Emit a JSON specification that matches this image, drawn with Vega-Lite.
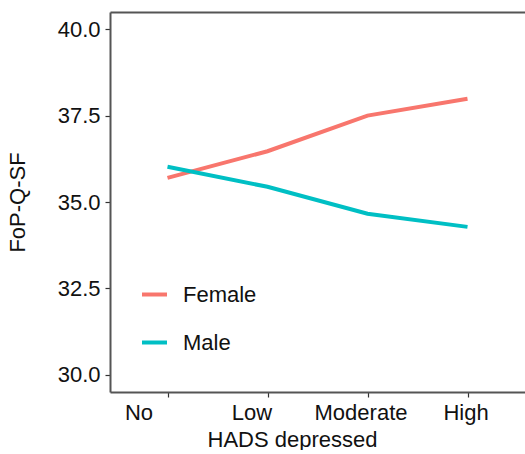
{
  "$schema": "https://vega.github.io/schema/vega-lite/v6.json",
  "width": 415,
  "height": 380,
  "padding": {"left": 6, "top": 12, "right": 0, "bottom": 0},
  "background": "white",
  "config": {
    "view": {"stroke": null},
    "font": "Liberation Sans",
    "axis": {
      "labelFont": "Liberation Sans",
      "titleFont": "Liberation Sans",
      "labelFontSize": 22,
      "titleFontSize": 22,
      "titleFontWeight": "normal",
      "labelColor": "#111",
      "titleColor": "#111",
      "domainColor": "#555",
      "domainWidth": 2,
      "tickColor": "#333",
      "tickWidth": 1.2,
      "tickSize": 5,
      "grid": false
    },
    "legend": {
      "labelFont": "Liberation Sans",
      "labelFontSize": 22,
      "labelColor": "#111"
    }
  },
  "data": {
    "values": [
      {"dep": "No", "sex": "Female", "fop": 35.70},
      {"dep": "Low", "sex": "Female", "fop": 36.47},
      {"dep": "Moderate", "sex": "Female", "fop": 37.50},
      {"dep": "High", "sex": "Female", "fop": 37.99},
      {"dep": "No", "sex": "Male", "fop": 36.02},
      {"dep": "Low", "sex": "Male", "fop": 35.44},
      {"dep": "Moderate", "sex": "Male", "fop": 34.66},
      {"dep": "High", "sex": "Male", "fop": 34.28}
    ]
  },
  "layer": [
    {
      "mark": {"type": "line", "strokeWidth": 4},
      "encoding": {
        "x": {
          "field": "dep",
          "type": "ordinal",
          "sort": ["No", "Low", "Moderate", "High"],
          "scale": {"type": "point", "padding": 0.575},
          "axis": {
            "title": "HADS depressed",
            "labelAngle": 0,
            "labelPadding": 5,
            "titlePadding": 6,
            "titleX": 182,
            "labelOffset": {
              "condition": [
                {"test": "datum.value === 'No'", "value": -29},
                {"test": "datum.value === 'Low'", "value": -16},
                {"test": "datum.value === 'Moderate'", "value": -7}
              ],
              "value": -2
            }
          }
        },
        "y": {
          "field": "fop",
          "type": "quantitative",
          "scale": {"domain": [29.5, 40.5], "nice": false, "zero": false},
          "axis": {
            "title": "FoP-Q-SF",
            "values": [30, 32.5, 35, 37.5, 40],
            "format": ".1f",
            "labelPadding": 5,
            "titlePadding": 28
          }
        },
        "color": {
          "field": "sex",
          "type": "nominal",
          "scale": {"domain": ["Female", "Male"], "range": ["#F8766D", "#00BFC4"]},
          "legend": {
            "title": null,
            "orient": "none",
            "legendX": 30,
            "legendY": 268,
            "symbolType": "stroke",
            "symbolSize": 625,
            "symbolStrokeWidth": 4,
            "labelOffset": 14,
            "rowPadding": 22
          }
        }
      }
    },
    {
      "mark": {"type": "line", "strokeOpacity": 0},
      "encoding": {
        "x": {
          "field": "dep",
          "type": "ordinal",
          "sort": ["No", "Low", "Moderate", "High"],
          "scale": {"type": "point", "padding": 0.575},
          "axis": {"orient": "top", "labels": false, "ticks": false, "title": null}
        },
        "y": {"field": "fop", "type": "quantitative"}
      }
    }
  ],
  "resolve": {"axis": {"x": "independent"}}
}
